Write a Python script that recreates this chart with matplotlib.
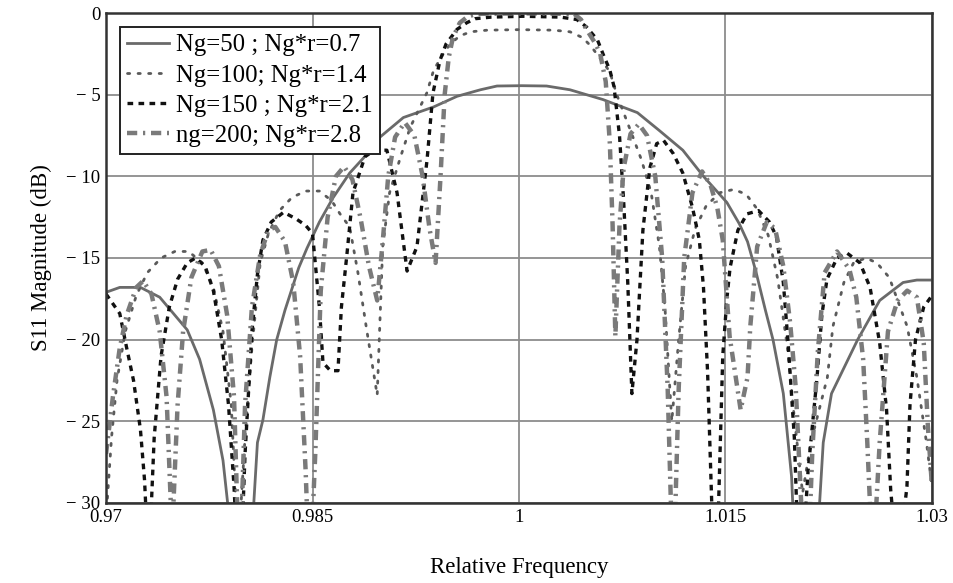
import matplotlib
matplotlib.use("Agg")
import matplotlib.pyplot as plt
from matplotlib.ticker import FixedLocator

# ---------------- data ----------------
x_ticks = [0.97, 0.985, 1.0, 1.015, 1.03]
x_tick_labels = ["0.97", "0.985", "1", "1.015", "1.03"]
y_ticks = [0, -5, -10, -15, -20, -25, -30]
y_tick_labels = ["0", "\u2212 5", "\u2212 10", "\u2212 15", "\u2212 20", "\u2212 25", "\u2212 30"]

labels = ["Ng=50 ; Ng*r=0.7", "Ng=100; Ng*r=1.4", "Ng=150 ; Ng*r=2.1", "ng=200; Ng*r=2.8"]

# Ng = 50 (solid)
f50 = [0.9700, 0.9710, 0.9725, 0.9739, 0.9747, 0.9759, 0.9768, 0.9778, 0.9785, 0.9789,
       0.9797, 0.9807, 0.9810, 0.9814, 0.9819, 0.9824, 0.9830, 0.9840, 0.9846, 0.9855,
       0.9865, 0.9877, 0.9890, 0.9899, 0.9916, 0.9938, 0.9955, 0.9972, 0.9984, 1.0002,
       1.0020, 1.0037, 1.0061, 1.0086, 1.0102, 1.0119, 1.0134, 1.0151, 1.0160, 1.0166,
       1.0172, 1.0179, 1.01845, 1.0192, 1.0198, 1.0203, 1.0218, 1.0221, 1.0227, 1.0246,
       1.0262, 1.0279, 1.0289, 1.0300]
s50 = [-17.1, -16.8, -16.8, -17.4, -18.2, -19.4, -21.2, -24.3, -27.4, -30.5,
       -38.0, -30.5, -26.3, -24.9, -22.3, -20.0, -18.2, -15.6, -14.4, -12.8,
       -11.3, -9.8, -8.6, -7.6, -6.4, -5.75, -5.1, -4.7, -4.47, -4.45,
       -4.47, -4.7, -5.3, -6.1, -7.2, -8.4, -10.0, -11.6, -12.9, -14.0,
       -15.8, -18.2, -20.0, -23.3, -28.4, -38.0, -30.5, -26.3, -23.3, -20.0,
       -17.6, -16.5, -16.35, -16.35]

# Ng = 100 (dotted)
f100 = [0.9700, 0.9704, 0.9708, 0.9714, 0.9722, 0.9730, 0.9740, 0.9750, 0.9760, 0.9770,
        0.9778, 0.9785, 0.9791, 0.9796, 0.9801, 0.9806, 0.9812, 0.9818, 0.9826, 0.9835,
        0.9845, 0.9855, 0.9864, 0.9870, 0.9877, 0.9883, 0.9889, 0.9897, 0.9901, 0.9906,
        0.9914, 0.9921, 0.9933, 0.9938, 0.9945, 0.9950, 0.9957, 0.9965, 0.9977, 1.0000,
        1.0025, 1.0037, 1.0046, 1.0052, 1.0060, 1.0066, 1.0071, 1.0081, 1.0089, 1.0096,
        1.0102, 1.0106, 1.0111, 1.0116, 1.0121, 1.0128, 1.0136, 1.0146, 1.0156, 1.0165,
        1.0173, 1.0181, 1.0188, 1.0195, 1.0200, 1.0206, 1.0212, 1.0224, 1.0228, 1.0236,
        1.0243, 1.0252, 1.0260, 1.0269, 1.0282, 1.0289, 1.0296, 1.0300]
s100 = [-31.0, -26.0, -22.5, -19.5, -17.3, -15.9, -15.0, -14.6, -14.6, -15.3,
        -16.8, -19.5, -24.0, -33.0, -26.0, -20.5, -15.3, -13.5, -12.1, -11.3,
        -10.9, -10.9, -11.5, -12.3, -13.1, -15.9, -19.2, -23.4, -14.3, -11.0,
        -8.8, -7.0, -4.9, -3.5, -2.5, -1.9, -1.4, -1.15, -1.05, -1.02,
        -1.05, -1.15, -1.5, -2.0, -2.9, -3.6, -5.0, -7.2, -9.0, -11.0,
        -14.3, -18.0, -25.0, -20.0, -15.5, -13.2, -11.8, -11.0, -10.8, -11.1,
        -12.0, -13.6, -16.3, -20.5, -24.8, -29.4, -26.3, -22.3, -19.2, -16.5,
        -15.3, -15.0, -15.3, -16.2, -19.2, -22.3, -26.3, -29.0]

# Ng = 150 (dashed)
f150 = [0.9700, 0.9705, 0.9710, 0.9715, 0.9720, 0.9725, 0.9728, 0.9731, 0.9735, 0.9740,
        0.9746, 0.9752, 0.9759, 0.9765, 0.9772, 0.9778, 0.9784, 0.9789, 0.9793, 0.9797,
        0.9801, 0.9806, 0.9810, 0.9814, 0.9820, 0.9829, 0.9838, 0.9845, 0.9850, 0.9855,
        0.98576, 0.9863, 0.98685, 0.9871, 0.98751, 0.98794, 0.98881, 0.9895, 0.9904, 0.99114,
        0.99187, 0.99259, 0.99332, 0.99375, 0.99426, 0.9947, 0.9955, 0.9962, 0.9968, 0.9980,
        1.0003, 1.0030, 1.0042, 1.0049, 1.0057, 1.0061, 1.0066, 1.0069, 1.0073, 1.0076,
        1.0079, 1.0082, 1.00857, 1.0090, 1.0095, 1.0100, 1.0105, 1.0112, 1.0119, 1.0126,
        1.0131, 1.0134, 1.0137, 1.0140, 1.0143, 1.0146, 1.0148, 1.0151, 1.01533, 1.0159,
        1.01656, 1.0174, 1.0182, 1.0187, 1.0192, 1.01955, 1.0200, 1.0204, 1.0210, 1.02165,
        1.0220, 1.02237, 1.0231, 1.02383, 1.02477, 1.0255, 1.0262, 1.0267, 1.0270, 1.0275,
        1.02818, 1.0284, 1.0288, 1.0294, 1.0300]
s150 = [-17.2, -17.8, -18.4, -20.5, -22.5, -25.5, -28.6, -34.0, -26.0, -21.0,
        -18.0, -16.3, -15.3, -15.0, -15.5, -17.0, -20.0, -24.0, -29.0, -36.0,
        -27.0, -19.5, -16.0, -13.9, -12.8, -12.2, -12.6, -13.0, -13.5, -18.0,
        -21.4, -21.9, -21.9, -18.0, -14.7, -11.0, -8.8, -8.4, -8.4, -11.0,
        -15.8, -14.3, -9.0, -4.9, -2.9, -1.9, -1.0, -0.6, -0.35, -0.25,
        -0.2, -0.25, -0.4, -0.85, -1.65, -2.5, -3.5, -4.5, -7.5, -11.5,
        -16.5, -23.3, -20.0, -13.3, -9.5, -8.0, -7.8, -8.6, -9.8, -11.9,
        -13.9, -16.8, -22.0, -30.0, -36.0, -27.0, -21.0, -17.5, -15.6, -13.3,
        -12.3, -12.1, -12.8, -13.7, -16.5, -20.2, -26.0, -36.0, -28.0, -22.3,
        -18.5, -16.3, -15.0, -14.7, -15.3, -16.8, -20.2, -24.3, -29.2, -34.0,
        -29.0, -24.0, -20.0, -18.0, -17.3]

# Ng = 200 (dash-dot)
f200 = [0.9700, 0.9705, 0.9710, 0.9715, 0.9722, 0.9727, 0.9733, 0.9739, 0.9744, 0.9748,
        0.9752, 0.9756, 0.9762, 0.9770, 0.9776, 0.9782, 0.9788, 0.9793, 0.9797, 0.9801,
        0.9806, 0.9812, 0.9818, 0.9823, 0.9830, 0.9836, 0.9841, 0.9845, 0.9848, 0.9852,
        0.9856, 0.9861, 0.9867, 0.9873, 0.9879, 0.9885, 0.9891, 0.9897, 0.9901, 0.9905,
        0.9910, 0.9917, 0.9924, 0.9930, 0.9935, 0.99394, 0.9943, 0.9946, 0.9949, 0.9952,
        0.9957, 0.9963, 0.9970, 1.0003, 1.0040, 1.0045, 1.0049, 1.0055, 1.0059, 1.0063,
        1.0066, 1.0068, 1.0070, 1.0073, 1.0076, 1.0081, 1.0087, 1.0093, 1.0099, 1.0104,
        1.0108, 1.0112, 1.0116, 1.0120, 1.0126, 1.0133, 1.0139, 1.0144, 1.0148, 1.0153,
        1.0161, 1.0166, 1.0168, 1.0173, 1.0180, 1.0186, 1.0192, 1.0197, 1.0201, 1.0205,
        1.0209, 1.0213, 1.0217, 1.0222, 1.0231, 1.0240, 1.0245, 1.0250, 1.0253, 1.0257,
        1.0262, 1.0268, 1.0275, 1.0282, 1.0289, 1.0294, 1.0297, 1.0300]
s200 = [-27.0, -23.5, -20.5, -18.5, -16.8, -16.4, -17.2, -19.5, -23.5, -32.0,
        -24.0, -19.5, -16.2, -14.6, -14.5, -15.5, -18.5, -23.5, -35.0, -24.0,
        -18.0, -14.8, -13.3, -13.1, -14.0, -16.5, -21.0, -28.0, -35.0, -27.0,
        -17.0, -12.5, -10.0, -9.4, -10.2, -12.6, -15.5, -17.6, -14.0, -10.0,
        -7.6, -6.7, -7.5, -10.0, -13.2, -15.3, -10.0, -5.0, -2.7, -1.5,
        -0.6, -0.2, -0.05, -0.02, -0.05, -0.4, -1.0, -1.8, -2.5, -4.2,
        -8.0, -13.0, -19.8, -13.0, -9.5, -7.4, -6.8, -7.5, -10.0, -15.0,
        -23.0, -35.0, -23.0, -15.0, -11.0, -9.7, -10.5, -11.9, -13.9, -19.8,
        -24.3, -22.3, -19.2, -14.3, -12.8, -13.2, -15.5, -19.0, -22.9, -30.0,
        -36.0, -27.0, -20.8, -15.9, -14.6, -15.7, -17.4, -21.2, -26.3, -34.0,
        -26.3, -19.5, -17.6, -17.0, -17.4, -20.2, -25.3, -29.0]

# ---------------- figure ----------------
SERIF = ["Liberation Serif", "DejaVu Serif"]
plt.rcParams["font.family"] = SERIF

fig = plt.figure(figsize=(9.54, 5.83), dpi=100)
ax = fig.add_axes([106 / 954, 1 - 503 / 583, 826 / 954, 490 / 583])

ax.plot(f50, s50, color="#6a6a6a", lw=2.0, linestyle="-", label=labels[0])
ax.plot(f100, s100, color="#5a5a5a", lw=2.0, linestyle=(0, (0.8, 3.0)),
        dash_capstyle="round", label=labels[1])
ax.plot(f150, s150, color="#111111", lw=2.4, linestyle=(0, (1.7, 1.6)), label=labels[2])
ax.plot(f200, s200, color="#7a7a7a", lw=3.2, linestyle=(0, (2.3, 1.3, 0.5, 1.3)),
        label=labels[3])

ax.set_xlim(0.97, 1.03)
ax.set_ylim(-30, 0)
ax.xaxis.set_major_locator(FixedLocator(x_ticks))
ax.yaxis.set_major_locator(FixedLocator(y_ticks))
ax.set_xticklabels(x_tick_labels)
ax.set_yticklabels(y_tick_labels)
ax.tick_params(length=0, labelsize=13.5, pad=4)
ax.grid(True, color="#8c8c8c", lw=1.3)
ax.set_axisbelow(True)
for sp in ax.spines.values():
    sp.set_color("#333333")
    sp.set_linewidth(1.8)

ax.set_xlabel("Relative Frequency", fontsize=16.5, labelpad=23)
ax.set_ylabel("S11 Magnitude (dB)", fontsize=16.5, labelpad=10)

leg = ax.legend(loc="upper left", bbox_to_anchor=(0.017, 0.971), borderaxespad=0,
                fontsize=17.8, frameon=True, fancybox=False, edgecolor="#222222",
                handlelength=1.7, handletextpad=0.3, labelspacing=0.32,
                borderpad=0.28, framealpha=1.0)
leg.get_frame().set_linewidth(1.4)

fig.savefig("out.png", dpi=100)
